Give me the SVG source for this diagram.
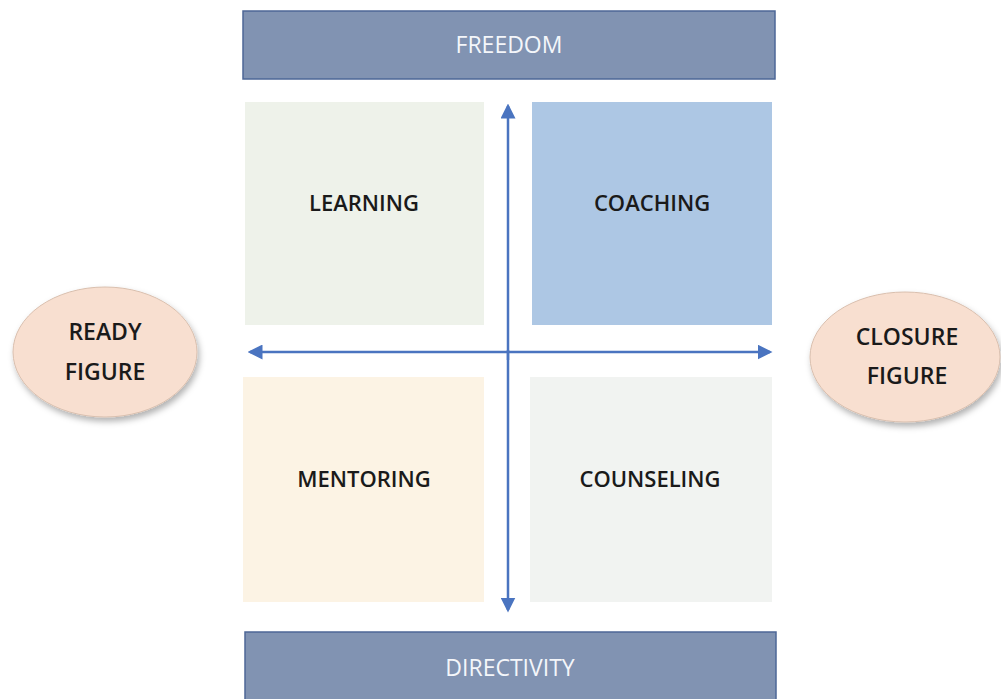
<svg xmlns="http://www.w3.org/2000/svg" width="1001" height="699" viewBox="0 0 1001 699">
<style>
.bar{fill:#8193b2;stroke:#4d6797;stroke-width:1.5}
.bt{font-family:"Open Sans","Noto Sans",sans-serif;font-size:23px;fill:#f4f6fa;text-anchor:middle}
.qt{font-family:"Open Sans","Noto Sans",sans-serif;font-size:22px;font-weight:600;fill:#1a1a1a;text-anchor:middle}
.et{font-family:"Open Sans","Noto Sans",sans-serif;font-size:23px;font-weight:600;fill:#1a1a1a;text-anchor:middle}
.ell{fill:#f8dfd0;stroke:#d9bfae;stroke-width:1}
.ax{stroke:#4a74c0;stroke-width:2.5;fill:none}
</style>
<defs>
<marker id="ah" markerWidth="6" markerHeight="6" refX="5" refY="3" orient="auto" markerUnits="strokeWidth">
<path d="M0,0 L6,3 L0,6 Z" fill="#4a74c0"/>
</marker>
<filter id="sh" x="-20%" y="-20%" width="150%" height="150%">
<feDropShadow dx="2" dy="4" stdDeviation="3" flood-color="#000" flood-opacity="0.3"/>
</filter>
</defs>
<g id="freedom"><rect class="bar" x="243" y="11" width="532" height="68"/><text class="bt" x="509" y="53">FREEDOM</text></g>
<g id="learning"><rect x="245" y="102" width="239" height="223" fill="#eef2ea"/><text class="qt" x="364" y="211">LEARNING</text></g>
<g id="coaching"><rect x="532" y="102" width="240" height="223" fill="#adc7e4"/><text class="qt" x="652" y="211">COACHING</text></g>
<g id="mentoring"><rect x="243" y="377" width="241" height="225" fill="#fcf3e4"/><text class="qt" x="364" y="487">MENTORING</text></g>
<g id="counseling"><rect x="530" y="377" width="242" height="225" fill="#f1f3f1"/><text class="qt" x="650" y="487">COUNSELING</text></g>
<g id="directivity"><rect class="bar" x="245" y="632" width="531" height="80"/><text class="bt" x="510" y="676">DIRECTIVITY</text></g>
<g id="ready"><ellipse class="ell" cx="105" cy="352" rx="92" ry="65" filter="url(#sh)"/><text class="et" x="105" y="340">READY</text><text class="et" x="105" y="380">FIGURE</text></g>
<g id="closure"><ellipse class="ell" cx="905" cy="357" rx="95" ry="65" filter="url(#sh)"/><text class="et" x="907" y="345">CLOSURE</text><text class="et" x="907" y="384">FIGURE</text></g>
<g id="connectors">
<line class="ax" x1="508" y1="360" x2="508" y2="106" marker-end="url(#ah)"/>
<line class="ax" x1="508" y1="350" x2="508" y2="610" marker-end="url(#ah)"/>
<line class="ax" x1="508" y1="352" x2="250" y2="352" marker-end="url(#ah)"/>
<line class="ax" x1="508" y1="352" x2="770" y2="352" marker-end="url(#ah)"/>
</g>
</svg>
